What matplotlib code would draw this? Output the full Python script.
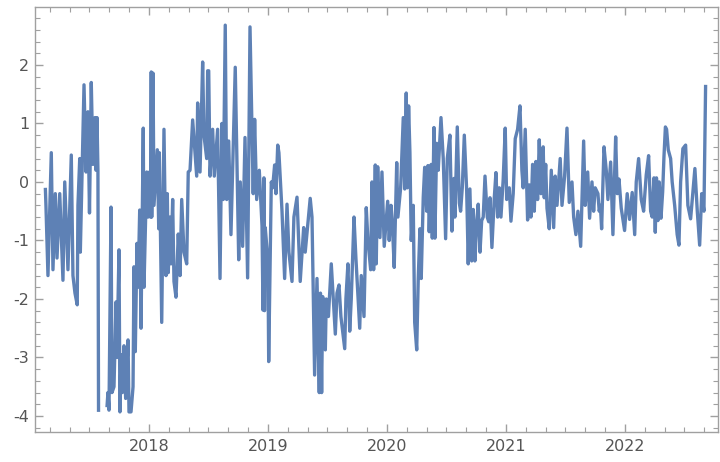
import numpy as np
import matplotlib
matplotlib.use("Agg")
import matplotlib.pyplot as plt
from matplotlib.ticker import MultipleLocator

plt.rcParams['axes.unicode_minus'] = False

# decimal year, value (NaN = gap in the data)
t_2017 = [2017.129, 2017.134, 2017.151, 2017.179, 2017.193, 2017.213, 2017.227, 2017.250,
          2017.277, 2017.292, 2017.319, 2017.347, 2017.361, 2017.378, 2017.397, 2017.403,
          2017.418, 2017.423, 2017.454, 2017.471, 2017.487, 2017.500, 2017.515, 2017.529,
          2017.546, 2017.555, 2017.563, 2017.571, 2017.576, 2017.610,
          2017.647, 2017.655, 2017.664, 2017.681, 2017.689, 2017.706, 2017.723, 2017.731,
          2017.748, 2017.756, 2017.765, 2017.776, 2017.790, 2017.804, 2017.824, 2017.832,
          2017.849, 2017.866, 2017.874, 2017.885, 2017.899, 2017.908, 2017.922, 2017.933,
          2017.952, 2017.958, 2017.981, 2017.992]
v_2017 = [-0.1, -0.4, -1.6, 0.5, -1.5, -0.2, -1.3, -0.2,
          -1.68, 0.0, -1.5, 0.46, -1.6, -1.9, -2.1, -0.4,
          0.4, -1.2, 1.66, 0.17, 1.2, -0.53, 1.7, 0.3,
          1.1, 0.2, 1.1, 0.2, -3.93, np.nan,
          -3.85, -3.6, -3.9, -0.43, -3.6, -3.5, -2.05, -3.0,
          -1.16, -3.93, -2.95, -3.6, -2.8, -3.7, -2.7, -3.93,
          -3.93, -3.5, -1.45, -2.9, -1.05, -1.8, -0.48, -2.5,
          0.92, -1.8, 0.17, -0.6]

t_2018 = [2018.004, 2018.013, 2018.019, 2018.023, 2018.034, 2018.042, 2018.070, 2018.082,
          2018.087, 2018.107, 2018.126, 2018.143, 2018.154, 2018.162, 2018.176, 2018.185,
          2018.199, 2018.210, 2018.227, 2018.246, 2018.261, 2018.275, 2018.294, 2018.317,
          2018.330, 2018.345, 2018.367, 2018.401, 2018.409, 2018.429, 2018.451, 2018.462,
          2018.485, 2018.493, 2018.502, 2018.513, 2018.535, 2018.549, 2018.577, 2018.597,
          2018.613, 2018.624, 2018.641, 2018.653, 2018.670, 2018.689, 2018.725, 2018.754,
          2018.767, 2018.787, 2018.807, 2018.829, 2018.849, 2018.876, 2018.888, 2018.905,
          2018.927, 2018.950, 2018.958, 2018.966, 2018.971, 2018.977]
v_2018 = [0.17, -0.6, 1.88, -0.6, 1.86, -0.4, 0.55, -0.8,
          0.5, -2.4, 0.9, -1.6, -0.2, -1.55, -0.6, -1.4,
          -0.3, -1.7, -1.97, -0.89, -1.6, -0.3, -1.2, -1.4,
          0.17, 0.2, 1.06, 0.1, 1.35, 0.17, 2.05, 0.8,
          0.4, 1.9, 1.9, 0.1, 0.9, 0.1, 0.9, -1.65,
          1.0, -0.3, 2.68, -0.3, 0.7, -0.9, 1.96, -1.33,
          0.0, -1.1, 0.76, -1.64, 2.65, -0.2, 1.07, -0.3,
          0.2, -0.75, -2.19, 0.07, -2.2, -0.78]

t_2019 = [2019.000, 2019.006, 2019.028, 2019.039, 2019.056, 2019.067, 2019.082, 2019.092,
          2019.118, 2019.140, 2019.160, 2019.176, 2019.202, 2019.218, 2019.244, 2019.271,
          2019.300, 2019.313, 2019.355, 2019.370, 2019.392, 2019.412, 2019.431, 2019.441,
          2019.451, 2019.460, 2019.476, 2019.482, 2019.490, 2019.508, 2019.532, 2019.546,
          2019.566, 2019.580, 2019.597, 2019.613, 2019.645, 2019.655, 2019.672, 2019.687,
          2019.700, 2019.723, 2019.739, 2019.771, 2019.784, 2019.807, 2019.826, 2019.840,
          2019.863, 2019.874, 2019.888, 2019.902, 2019.910, 2019.922, 2019.941, 2019.958,
          2019.977]
v_2019 = [-1.35, -3.07, 0.0, -0.1, 0.29, -0.2, 0.63, 0.5,
          -0.5, -1.65, -0.38, -1.2, -1.7, -0.6, -0.26, -1.7,
          -0.78, -1.2, -0.28, -0.6, -3.3, -1.65, -3.6, -1.9,
          -3.6, -1.96, -2.6, -2.87, -2.0, -2.3, -1.4, -1.9,
          -2.6, -1.9, -1.76, -2.3, -2.85, -2.0, -1.4, -2.55,
          -2.0, -0.6, -1.3, -2.5, -1.6, -2.3, -0.44, -1.0,
          -1.5, 0.0, -1.5, 0.29, -1.4, 0.26, -0.95, 0.17,
          -1.1]

t_2020 = [2020.006, 2020.019, 2020.034, 2020.045, 2020.061, 2020.082, 2020.092, 2020.115,
          2020.137, 2020.149, 2020.162, 2020.171, 2020.182, 2020.193, 2020.204, 2020.221,
          2020.233, 2020.250, 2020.263, 2020.277, 2020.288, 2020.305, 2020.317, 2020.334,
          2020.345, 2020.355, 2020.372, 2020.381, 2020.395, 2020.403, 2020.418, 2020.431,
          2020.454, 2020.473, 2020.493, 2020.507, 2020.529, 2020.546, 2020.563, 2020.571,
          2020.591, 2020.608, 2020.619, 2020.633, 2020.650, 2020.670, 2020.683, 2020.697,
          2020.712, 2020.725, 2020.739, 2020.754, 2020.767, 2020.782, 2020.796, 2020.809,
          2020.824, 2020.843, 2020.855, 2020.866, 2020.882, 2020.902, 2020.916, 2020.930,
          2020.944, 2020.958, 2020.977, 2020.994]
v_2020 = [-0.33, -1.0, -0.4, -0.7, -1.46, 0.33, -0.6, -0.1,
          1.1, -0.12, 1.52, -0.1, 1.3, 0.5, -1.0, -0.4,
          -2.4, -2.87, -1.65, -0.8, -1.65, -0.26, 0.25, -0.5,
          0.28, -0.85, 0.3, -0.96, 0.93, -0.96, 0.66, 0.2,
          1.1, 0.4, -0.97, 0.4, 0.8, -0.84, 0.06, -0.6,
          0.94, -0.36, -0.5, -0.1, 0.8, -0.15, -1.4, -0.12,
          -1.35, -0.47, -1.35, -0.7, -0.38, -1.2, -0.66, -0.6,
          0.1, -0.6, -0.68, -0.27, -1.12, -0.27, 0.16, -0.6,
          -0.1, -0.6, 0.05, 0.92]

t_2021 = [2021.006, 2021.028, 2021.042, 2021.061, 2021.078, 2021.098, 2021.118, 2021.134,
          2021.145, 2021.162, 2021.182, 2021.196, 2021.210, 2021.224, 2021.238, 2021.252,
          2021.266, 2021.280, 2021.294, 2021.313, 2021.322, 2021.334, 2021.345, 2021.364,
          2021.381, 2021.401, 2021.414, 2021.429, 2021.456, 2021.471, 2021.493, 2021.513,
          2021.532, 2021.555, 2021.569, 2021.588, 2021.605, 2021.628, 2021.639, 2021.653,
          2021.666, 2021.687, 2021.703, 2021.723, 2021.737, 2021.750, 2021.773, 2021.784,
          2021.794, 2021.804, 2021.824, 2021.843, 2021.857, 2021.880, 2021.899, 2021.922,
          2021.935, 2021.950, 2021.969, 2021.997]
v_2021 = [-0.3, -0.1, -0.67, -0.2, 0.74, 0.9, 1.3, 0.2,
          -0.1, 0.9, -0.65, -0.05, -0.6, 0.3, -0.5, 0.35,
          -0.3, 0.72, -0.2, 0.6, -0.27, 0.3, -0.45, -0.8,
          0.2, -0.78, 0.1, -0.4, 0.4, -0.4, 0.1, 0.92,
          -0.35, 0.0, -0.6, -0.9, -0.5, -1.1, -0.3, 0.7,
          -0.4, 0.17, -0.62, 0.0, -0.5, -0.1, -0.2, -0.5,
          -0.4, -0.8, 0.6, 0.2, -0.3, 0.34, -0.9, 0.77,
          -0.2, 0.05, -0.45, -0.83]

t_2022 = [2022.019, 2022.039, 2022.061, 2022.082, 2022.095, 2022.115, 2022.137, 2022.157,
          2022.179, 2022.199, 2022.216, 2022.229, 2022.244, 2022.255, 2022.265, 2022.277,
          2022.288, 2022.303, 2022.317, 2022.328, 2022.340, 2022.350, 2022.364, 2022.384,
          2022.397, 2022.418, 2022.439, 2022.454, 2022.468, 2022.487, 2022.510, 2022.529,
          2022.552, 2022.574, 2022.588, 2022.608, 2022.628, 2022.645, 2022.664, 2022.678]
v_2022 = [-0.2, -0.64, -0.18, -0.9, 0.0, 0.4, -0.3, -0.5,
          0.12, 0.45, -0.5, -0.6, 0.07, -0.86, 0.07, -0.66,
          0.0, -0.62, -0.17, 0.43, 0.94, 0.9, 0.55, 0.4,
          0.0, -0.4, -0.9, -1.08, 0.0, 0.57, 0.63, -0.4,
          -0.63, -0.1, 0.23, -0.5, -1.08, -0.2, -0.5, 1.66]

years = [2018, 2019, 2020, 2021, 2022]

t = np.array(t_2017 + t_2018 + t_2019 + t_2020 + t_2021 + t_2022)
v = np.array(v_2017 + v_2018 + v_2019 + v_2020 + v_2021 + v_2022)

fig = plt.figure(figsize=(7.2, 4.62), dpi=100)
ax = fig.add_axes([0.0486, 0.0649, 0.9486, 0.9199])

ax.plot(t, v, color='#5E81B5', lw=2.4, solid_joinstyle='round', solid_capstyle='butt')

ax.set_xlim(2017.042, 2022.782)
ax.set_ylim(-4.274, 2.99)

ax.set_xticks(years)
ax.set_xticklabels([str(y) for y in years])
ax.xaxis.set_minor_locator(MultipleLocator(1 / 6))
ax.set_yticks([-4, -3, -2, -1, 0, 1, 2])
ax.yaxis.set_minor_locator(MultipleLocator(0.2))

frame_c = '#a0a0a0'
for s in ax.spines.values():
    s.set_color(frame_c)
    s.set_linewidth(1.0)
ax.tick_params(which='both', direction='in', top=True, right=True,
               color=frame_c, labelcolor='#555555', labelsize=11.5)
ax.tick_params(which='major', length=6, width=1.0)
ax.tick_params(which='minor', length=3.5, width=0.8)
ax.tick_params(axis='x', pad=5)
ax.tick_params(axis='y', pad=4)

fig.savefig('out.png', dpi=100)
